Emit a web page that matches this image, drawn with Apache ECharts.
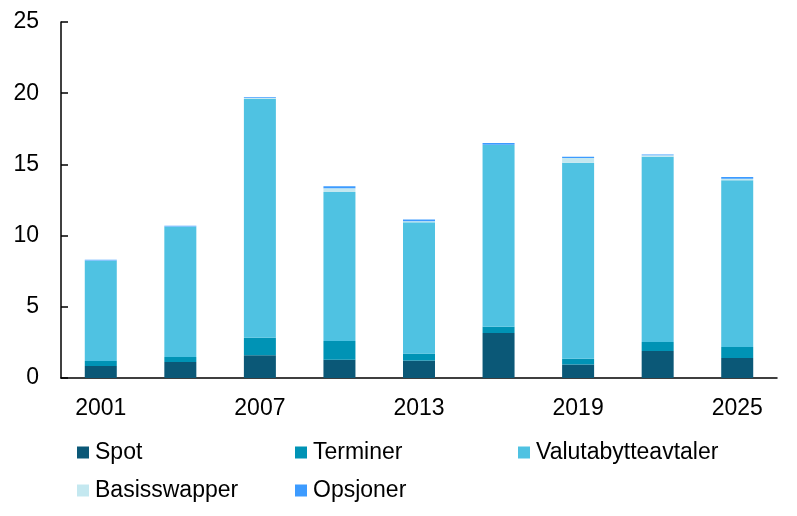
<!DOCTYPE html>
<html>
<head>
<meta charset="utf-8">
<script src="https://cdn.jsdelivr.net/npm/echarts@6/dist/echarts.min.js"></script>
<style>
html,body{margin:0;padding:0;background:#fff;}
#chart{width:797px;height:516px;}
</style>
</head>
<body>
<div id="chart"></div>
<script>
var years = ['2001','2004','2007','2010','2013','2016','2019','2022','2025'];
var spot = [0.84, 1.12, 1.59, 1.29, 1.22, 3.16, 0.94, 1.90, 1.40];
var terminer = [0.35, 0.35, 1.24, 1.31, 0.49, 0.44, 0.42, 0.63, 0.78];
var valuta = [7.05, 9.15, 16.78, 10.46, 9.22, 12.76, 13.76, 13.01, 11.70];
var basis = [0.02, 0.02, 0.05, 0.26, 0.08, 0.02, 0.33, 0.10, 0.12];
var opsjoner = [0.05, 0.05, 0.05, 0.14, 0.12, 0.12, 0.09, 0.05, 0.12];

var names = ['Spot','Terminer','Valutabytteavtaler','Basisswapper','Opsjoner'];
var colors = ['#0b5877','#0093b5','#4fc2e2','#c4e8f0','#3d9bff'];
var values = [spot, terminer, valuta, basis, opsjoner];

var font = 'Liberation Sans, Arial, sans-serif';
var legendPos = [[72,436],[290,436],[513,436],[72,474],[290,474]];

var chart = echarts.init(document.getElementById('chart'), null, {renderer:'canvas'});
var option = {
  animation: false,
  backgroundColor: '#fff',
  color: colors,
  grid: {left: 61, right: 20, top: 22, bottom: 138, containLabel: false},
  legend: names.map(function(n, i){
    return {
      data: [n], left: legendPos[i][0], top: legendPos[i][1],
      icon: 'rect', itemWidth: 12, itemHeight: 12, itemGap: 0,
      textStyle: {fontFamily: font, fontSize: 23, color: '#000', padding: [0,0,0,1]},
      selectedMode: false
    };
  }),
  xAxis: {
    type: 'category', data: years,
    axisLine: {lineStyle: {color: '#000', width: 1.5}},
    axisTick: {show: false},
    axisLabel: {interval: 1, fontFamily: font, fontSize: 23, color: '#000', margin: 19}
  },
  yAxis: {
    type: 'value', min: 0, max: 25, interval: 5,
    splitLine: {show: false},
    axisLine: {show: true, lineStyle: {color: '#000', width: 1.5}},
    axisTick: {show: true, inside: true, length: 7, lineStyle: {color: '#000', width: 1.5}},
    axisLabel: {fontFamily: font, fontSize: 23, color: '#000', margin: 22}
  },
  series: names.map(function(n, i){
    return {
      name: n, type: 'bar', stack: 'total', data: values[i],
      barWidth: 32,
      itemStyle: {color: colors[i]}
    };
  })
};
chart.setOption(option);
</script>
</body>
</html>
